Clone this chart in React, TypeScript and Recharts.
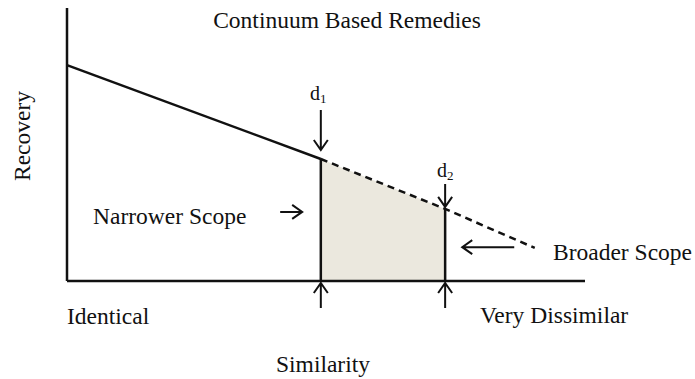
import React from "react";
import {
  ComposedChart,
  Area,
  Line,
  XAxis,
  YAxis,
  ReferenceLine,
  ReferenceDot,
} from "recharts";

// similarity axis runs 0 (identical) .. 100 (very dissimilar), recovery 0..100
const similarity = [0, 49, 73, 90.3];
const recoverySolid = [79.1, 44.7, null, null];
const recoveryDashed = [null, 44.7, 26.4, 12.1];
const shadedScope = [null, 44.7, 26.4, null];

const cutoffNames = ["1", "2"];
const cutoffX = [49, 73];
const cutoffY = [44.7, 26.4];

// annotation arrows: tip in data units, direction, length / gap in px
const arrowX = [49, 73, 49, 73, 45.4, 76.3];
const arrowY = [44.7, 26.4, 0, 0, 25.3, 12.4];
const arrowDir = ["down", "down", "up", "up", "right", "left"];
const arrowLen = [40, 23, 25, 25, 22, 52];
const arrowGap = [9, 2, 2, 2, 0, 0];

const data = similarity.map((x, i) => ({
  x,
  solid: recoverySolid[i],
  dashed: recoveryDashed[i],
  shade: shadedScope[i],
}));

const INK = "#111";
const FONT = "'Liberation Serif', 'Times New Roman', serif";

function Arrow(props: any) {
  const { cx, cy, dir, len, gap } = props;
  if (cx == null || cy == null) return null;
  const h = 10;
  const w = 7;
  let d = "";
  if (dir === "down") {
    const t = cy - gap;
    d = `M${cx},${t - len} L${cx},${t} M${cx - w},${t - h} L${cx},${t} L${cx + w},${t - h}`;
  } else if (dir === "up") {
    const t = cy + gap;
    d = `M${cx},${t + len} L${cx},${t} M${cx - w},${t + h} L${cx},${t} L${cx + w},${t + h}`;
  } else if (dir === "right") {
    const t = cx - gap;
    d = `M${t - len},${cy} L${t},${cy} M${t - h},${cy - w} L${t},${cy} L${t - h},${cy + w}`;
  } else {
    const t = cx + gap;
    d = `M${t + len},${cy} L${t},${cy} M${t + h},${cy - w} L${t},${cy} L${t + h},${cy + w}`;
  }
  return <path d={d} fill="none" stroke={INK} strokeWidth={2} />;
}

export default function App() {
  return (
    <div
      style={{
        position: "absolute",
        left: 0,
        top: 0,
        width: 695,
        height: 379,
        background: "#fff",
      }}
    >
      <ComposedChart
        width={695}
        height={379}
        data={data}
        margin={{ top: 8, right: 110, bottom: 97, left: 66 }}
      >
        <XAxis
          dataKey="x"
          type="number"
          domain={[0, 100]}
          height={1}
          tick={false}
          tickLine={false}
          axisLine={{ stroke: INK, strokeWidth: 2.5 }}
        />
        <YAxis
          type="number"
          domain={[0, 100]}
          width={1}
          tick={false}
          tickLine={false}
          axisLine={{ stroke: INK, strokeWidth: 2.5 }}
        />
        <Area
          dataKey="shade"
          type="linear"
          fill="#ebe8de"
          fillOpacity={1}
          stroke="none"
          dot={false}
          activeDot={false}
          isAnimationActive={false}
        />
        <Line
          dataKey="solid"
          type="linear"
          stroke={INK}
          strokeWidth={2.5}
          dot={false}
          activeDot={false}
          isAnimationActive={false}
        />
        <Line
          dataKey="dashed"
          type="linear"
          stroke={INK}
          strokeWidth={2.5}
          strokeDasharray="7 5"
          dot={false}
          activeDot={false}
          isAnimationActive={false}
        />
        {cutoffX.map((x, i) => (
          <ReferenceLine
            key={`cut-${cutoffNames[i]}`}
            segment={[
              { x, y: 0 },
              { x, y: cutoffY[i] },
            ]}
            stroke={INK}
            strokeWidth={2.5}
          />
        ))}
        {arrowX.map((x, i) => (
          <ReferenceDot
            key={`arrow-${i}`}
            x={x}
            y={arrowY[i]}
            r={0}
            ifOverflow="visible"
            shape={(p: any) => (
              <Arrow
                cx={p.cx}
                cy={p.cy}
                dir={arrowDir[i]}
                len={arrowLen[i]}
                gap={arrowGap[i]}
              />
            )}
          />
        ))}
      </ComposedChart>
      <svg
        width={695}
        height={379}
        style={{ position: "absolute", left: 0, top: 0, pointerEvents: "none" }}
        fontFamily={FONT}
        fill={INK}
      >
        <text x={347} y={28} fontSize={23.5} textAnchor="middle">
          Continuum Based Remedies
        </text>
        <text
          x={0}
          y={0}
          fontSize={23.5}
          textAnchor="middle"
          transform="translate(30,136) rotate(-90)"
        >
          Recovery
        </text>
        <text x={93} y={224} fontSize={23.5}>
          Narrower Scope
        </text>
        <text x={553} y={260} fontSize={23.5}>
          Broader Scope
        </text>
        <text x={67} y={324} fontSize={23.5}>
          Identical
        </text>
        <text x={480} y={323} fontSize={23.5}>
          Very Dissimilar
        </text>
        <text x={323} y={372} fontSize={23.5} textAnchor="middle">
          Similarity
        </text>
        <text x={310} y={100} fontSize={20}>
          d<tspan fontSize={13} dy={3}>1</tspan>
        </text>
        <text x={437} y={177} fontSize={20}>
          d<tspan fontSize={13} dy={3}>2</tspan>
        </text>
      </svg>
    </div>
  );
}
